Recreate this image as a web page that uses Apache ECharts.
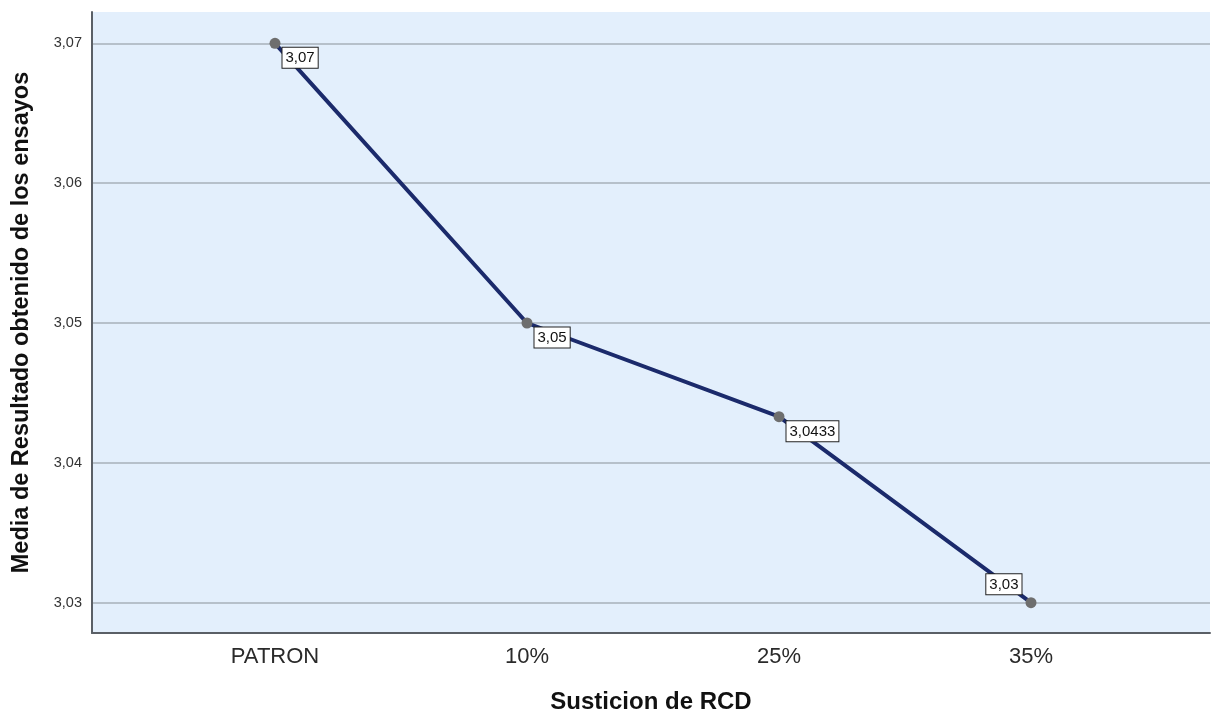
<!DOCTYPE html>
<html>
<head>
<meta charset="utf-8">
<script src="https://cdn.jsdelivr.net/npm/echarts@6/dist/echarts.min.js"></script>
<style>
html,body{margin:0;padding:0;background:#fff;}
#c{width:1213px;height:716px;}
</style>
</head>
<body>
<div id="c"></div>
<script>
const categories = ['PATRON', '10%', '25%', '35%'];
const values = [3.07, 3.05, 3.0433, 3.03];
const yTicks = { min: 3.03, max: 3.07, step: 0.01 };
const xTitle = 'Susticion de RCD';
const yTitle = 'Media de Resultado obtenido de los ensayos';

const FONT = '"Liberation Sans", Arial, sans-serif';
const fmt = v => String(v).replace('.', ',');

const seriesData = values.map((v, i) => {
  const d = { value: v };
  if (i === values.length - 1) {
    d.label = { position: [-4, -3], align: 'right', verticalAlign: 'bottom' };
  }
  return d;
});

const chart = echarts.init(document.getElementById('c'), null, { renderer: 'canvas' });
chart.setOption({
  animation: false,
  backgroundColor: '#ffffff',
  grid: [
    { left: 92, right: 3, top: 12, bottom: 83, show: true, backgroundColor: '#e3effc', borderWidth: 0, outerBoundsMode: 'none', containLabel: false },
    { left: 92, right: 3, top: 43.3, bottom: 113.3, outerBoundsMode: 'none', containLabel: false },
    { left: 275, right: 182, top: 43.3, bottom: 113.3, outerBoundsMode: 'none', containLabel: false }
  ],
  xAxis: [
    { gridIndex: 0, type: 'value', min: 0, max: 1, axisLine: { show: true, onZero: false, lineStyle: { color: '#5a5f66', width: 2 } },
      axisTick: { show: false }, axisLabel: { show: false }, splitLine: { show: false },
      name: xTitle, nameLocation: 'middle', nameGap: 57,
      nameTextStyle: { fontFamily: FONT, fontSize: 24, fontWeight: 'bold', color: '#111' } },
    { gridIndex: 1, type: 'value', min: 0, max: 1, show: false },
    { gridIndex: 2, type: 'category', data: categories, boundaryGap: false, offset: 30.3,
      axisLine: { show: false }, axisTick: { show: false }, splitLine: { show: false },
      axisLabel: { fontFamily: FONT, fontSize: 22, color: '#2a2a2a', margin: 13 } }
  ],
  yAxis: [
    { gridIndex: 0, type: 'value', min: 0, max: 1, axisLine: { show: true, onZero: false, lineStyle: { color: '#5a5f66', width: 2 } },
      axisTick: { show: false }, axisLabel: { show: false }, splitLine: { show: false },
      name: yTitle, nameLocation: 'middle', nameGap: 58, nameRotate: 90,
      nameTextStyle: { fontFamily: FONT, fontSize: 23.5, fontWeight: 'bold', color: '#111' } },
    { gridIndex: 1, type: 'value', min: yTicks.min, max: yTicks.max, interval: yTicks.step,
      axisLine: { show: false }, axisTick: { show: false },
      axisLabel: { fontFamily: FONT, fontSize: 14.5, color: '#333', margin: 10, formatter: v => fmt(+v.toFixed(2)) },
      splitLine: { show: true, lineStyle: { color: '#a7b0ba', width: 1.5 } } },
    { gridIndex: 2, type: 'value', min: yTicks.min, max: yTicks.max, show: false }
  ],
  series: [{
    type: 'line',
    xAxisIndex: 2,
    yAxisIndex: 2,
    data: seriesData,
    symbol: 'circle',
    symbolSize: 11,
    lineStyle: { color: '#1b2a6b', width: 4 },
    itemStyle: { color: '#6e6e6e' },
    z: 5,
    label: {
      show: true,
      position: [13, 10],
      align: 'left',
      verticalAlign: 'top',
      formatter: p => fmt(p.value),
      fontFamily: FONT,
      fontSize: 15,
      color: '#111',
      backgroundColor: '#ffffff',
      borderColor: '#222',
      borderWidth: 1,
      padding: [3, 3, 2, 3]
    }
  }]
});
</script>
</body>
</html>
